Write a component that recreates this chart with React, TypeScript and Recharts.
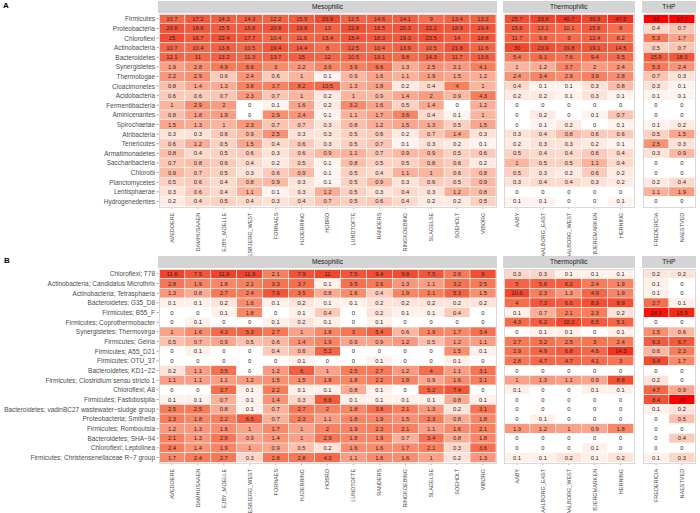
import { ScatterChart, Scatter, XAxis, YAxis } from 'recharts'

const mesoSites = ['AVEDOERE', 'DAMHUSAAEN', 'EJBY_MOELLE', 'ESBJERG_WEST', 'FORNAES', 'HJOERRING', 'HOBRO', 'LUNDTOFTE', 'RANDERS', 'RINGKOEBING', 'SLAGELSE', 'SOEHOLT', 'VIBORG']
const thermoSites = ['AABY', 'AALBORG_EAST', 'AALBORG_WEST', 'BJERGMARKEN', 'HERNING']
const thpSites = ['FREDERICIA', 'NAESTVED']

const phyla = ['Firmicutes', 'Proteobacteria', 'Chloroflexi', 'Actinobacteria', 'Bacteroidetes', 'Synergistetes', 'Thermotogae', 'Cloacimonetes', 'Acidobacteria', 'Fermentibacteria', 'Aminicenantes', 'Spirochaetae', 'Atribacteria', 'Tenericutes', 'Armatimonadetes', 'Saccharibacteria', 'Chlorobi', 'Planctomycetes', 'Lentisphaerae', 'Hydrogenedentes']

const genera = ['Chloroflexi; T78', 'Actinobacteria; Candidatus Microthrix', 'Actinobacteria; Tetrasphaera', 'Bacteroidetes; G35_D8', 'Firmicutes; B55_F', 'Firmicutes; Coprothermobacter', 'Synergistetes; Thermovirga', 'Firmicutes; Gelria', 'Firmicutes; A55_D21', 'Firmicutes; OTU_37', 'Bacteroidetes; KD1\u221222', 'Firmicutes; Clostridium sensu stricto 1', 'Chloroflexi; A8', 'Firmicutes; Fastidiosipila', 'Bacteroidetes; vadinBC27 wastewater\u2212sludge group', 'Proteobacteria; Smithella', 'Firmicutes; Romboutsia', 'Bacteroidetes; SHA\u221294', 'Chloroflexi; Leptolinea', 'Firmicutes; Christensenellaceae R\u22127 group']

// panel A, phylum level
const aMeso = [
  [10.7, 17.2, 14.3, 14.3, 12.2, 15.9, 29.9, 12.5, 14.6, 14.1, 9, 13.4, 13.2],
  [20.8, 18.8, 15.5, 16.8, 20.8, 19.8, 13, 22.8, 16.5, 20.3, 22.2, 18.9, 19.4],
  [25, 16.7, 22.4, 17.7, 10.4, 11.6, 13.4, 18.4, 18.3, 19.3, 23.5, 14, 18.8],
  [10.7, 10.4, 13.8, 10.5, 19.4, 14.4, 8, 12.5, 10.4, 13.9, 10.5, 21.6, 11.6],
  [12.1, 11, 13.2, 11.3, 13.7, 15, 12, 10.5, 13.1, 9.8, 14.3, 11.7, 13.6],
  [1.9, 2.8, 4.9, 6.6, 3, 2.2, 3.6, 3.9, 6.6, 1.3, 2.5, 2.1, 4.1],
  [2.2, 2.9, 0.6, 2.4, 0.6, 1, 0.1, 0.9, 1.6, 1.1, 1.9, 1.5, 1.2],
  [0.8, 1.4, 1.3, 3.8, 3.7, 8.2, 10.5, 1.3, 1.8, 0.2, 0.4, 4, 1],
  [0.6, 0.6, 0.7, 2.3, 0.7, 1, 0.2, 1, 0.9, 1.4, 2, 0.9, 4.3],
  [1, 2.9, 2, 0, 0.1, 1.6, 0.2, 3.2, 1.6, 0.5, 1.4, 0, 1.2],
  [0.8, 1.8, 1.9, 0, 2.9, 2.4, 0.1, 1.1, 1.7, 3.6, 0.4, 0.1, 1],
  [1.5, 1.3, 1, 2.3, 0.7, 0.7, 0.3, 0.8, 1.2, 1.5, 1.3, 0.5, 1.5],
  [0.3, 0.3, 0.6, 0.9, 2.5, 0.3, 0.3, 0.5, 0.6, 0.2, 0.7, 1.4, 0.3],
  [0.6, 1.2, 0.5, 1.5, 0.4, 0.6, 0.3, 0.5, 0.7, 0.1, 0.3, 0.2, 0.1],
  [0.8, 0.4, 0.5, 0.6, 0.3, 0.6, 0.9, 1.1, 0.7, 0.9, 0.9, 0.5, 0.6],
  [0.7, 0.8, 0.6, 0.4, 0.2, 0.5, 0.1, 0.8, 0.5, 0.5, 0.8, 0.6, 0.2],
  [0.9, 0.7, 0.5, 0.3, 0.6, 0.9, 0.1, 0.5, 0.4, 1.1, 1, 0.6, 0.8],
  [0.5, 0.6, 0.4, 0.8, 0.9, 0.3, 0.1, 0.5, 0.9, 0.3, 0.6, 0.5, 0.9],
  [0.3, 0.6, 0.4, 1.1, 0.1, 0.3, 1.2, 0.5, 0.3, 0.4, 0.3, 1.2, 0.8],
  [0.2, 0.4, 0.5, 0.4, 0.3, 0.4, 0.7, 0.5, 0.6, 0.4, 0.2, 0.2, 0.5],
]
const aThermo = [
  [25.7, 33.8, 40.7, 30.9, 47.5],
  [15.6, 13.1, 10.1, 15.6, 8],
  [11.7, 9.8, 9, 12.4, 8.2],
  [30, 23.9, 19.8, 19.1, 14.5],
  [5.4, 9.1, 7.6, 9.4, 9.5],
  [1, 1.2, 3.7, 2, 2.4],
  [2.4, 3.4, 2.9, 3.9, 2.8],
  [0.4, 0.1, 0.1, 0.3, 0.8],
  [0.2, 0.2, 0.1, 0.3, 0.1],
  [0, 0, 0, 0, 0],
  [0, 0.2, 0, 0.1, 0.7],
  [0, 0.1, 0.2, 0, 0.1],
  [0.3, 0.4, 0.8, 0.6, 0.6],
  [0.2, 0.3, 0.3, 0.2, 0.1],
  [0.5, 0.4, 0.4, 0.6, 0.4],
  [1, 0.5, 0.5, 1.1, 0.4],
  [0.5, 0.3, 0.2, 0.6, 0.2],
  [0.3, 0.4, 0.4, 0.3, 0.2],
  [0, 0, 0, 0, 0],
  [0.1, 0.1, 0, 0, 0.1],
]
const aThp = [
  [68, 67.7], [0.4, 0.7], [5.3, 1.7], [0.5, 0.7], [15.9, 18.3],
  [5.3, 2.4], [0.7, 0.3], [0.3, 0.1], [0.1, 0.1], [0, 0],
  [0, 0], [0.1, 0.2], [0.5, 1.5], [2.5, 0.3], [0.3, 0.9],
  [0, 0], [0, 0], [0.2, 0.4], [1.1, 1.9], [0, 0],
]

// panel B, genus level
const bMeso = [
  [11.8, 7.5, 11.9, 11.9, 2.1, 7.9, 11, 7.5, 9.4, 9.8, 7.5, 2.6, 9],
  [2.8, 1.9, 1.8, 2.1, 3.3, 3.7, 0.1, 3.5, 2.6, 1.3, 1.1, 3.2, 2.5],
  [1.3, 0.8, 2.7, 2.4, 7.6, 3.5, 0.8, 1.6, 0.4, 1.9, 2.1, 5.3, 1.5],
  [0.1, 0.1, 0.2, 1.6, 0.1, 0.2, 0.1, 0.1, 0.2, 0.2, 0.2, 0.2, 0.2],
  [0, 0, 0.1, 1.8, 0, 0.1, 0.4, 0, 0.2, 0.1, 0.1, 0.4, 0],
  [0, 0.1, 0, 0, 0.1, 0.2, 0.1, 0, 0.1, 0, 0, 0, 0],
  [1, 1.6, 4.3, 5.3, 2.7, 1, 1.8, 3, 5.4, 0.6, 1.9, 1.7, 3.4],
  [0.5, 0.7, 0.9, 0.5, 0.6, 1.4, 1.9, 0.9, 0.9, 1.2, 0.5, 1.2, 1.1],
  [0, 0.1, 0, 0, 0.4, 0.6, 5.2, 0, 0, 0, 0, 1.5, 0.1],
  [0, 0, 0, 0, 0, 0.1, 0, 0, 0.1, 0, 0, 0.1, 0],
  [0.2, 1.1, 3.5, 0, 1.2, 6, 1, 2.5, 2.7, 1.2, 4, 1.1, 3.1],
  [1.1, 1.1, 1.1, 1.2, 1.5, 1.5, 1.8, 1.8, 2.2, 1.9, 0.9, 1.6, 2.1],
  [0, 0, 3.7, 0.1, 2.2, 0.1, 0.1, 0.8, 0.1, 0, 5.2, 7.4, 0],
  [0.1, 0.1, 0.7, 0.1, 1.4, 0.3, 6.6, 0.1, 0.1, 0.1, 0.1, 0.8, 0.1],
  [2.5, 2.5, 0.8, 0.1, 0.7, 2.7, 2, 1.8, 3.8, 2.1, 1.3, 0.2, 3.1],
  [2.3, 1.8, 2.2, 6.5, 0.7, 2.3, 1.1, 1.8, 1.9, 1.5, 2.3, 0.8, 1.8],
  [1.2, 1.3, 1.6, 1, 1.7, 1, 2, 1.9, 2.3, 2.1, 1.1, 1.6, 2.1],
  [2.1, 1.3, 2.8, 0.9, 1.4, 1, 2.9, 1.8, 1.9, 0.7, 3.4, 0.8, 1.8],
  [2.4, 1.4, 1.9, 1, 0.9, 0.5, 0.2, 1.6, 1.6, 1.7, 2.1, 0.3, 3.6],
  [1.7, 2.4, 2.7, 0.3, 2.8, 2.8, 4.3, 1.1, 1.6, 1.6, 1, 0.2, 1.3],
]
const bThermo = [
  [0.3, 0.3, 0.1, 0.1, 0.1],
  [5, 5.6, 6.2, 2.4, 1.9],
  [10.6, 2.3, 1.3, 4.9, 1.9],
  [4, 7.3, 6.6, 8.9, 8.9],
  [0.1, 0.7, 2.1, 2.3, 0.2],
  [4.3, 6.2, 10.2, 6.5, 5.1],
  [0, 0.1, 0.1, 0, 0.1],
  [2.7, 3.2, 2.5, 3, 2.4],
  [2.9, 4.9, 6.8, 4.6, 14.3],
  [2.8, 4.7, 4.7, 4.1, 3],
  [0, 0, 0, 0, 0],
  [1, 1.3, 1.1, 0.9, 8.6],
  [0.1, 0, 0, 0.1, 0.1],
  [0, 0, 0, 0, 0],
  [0, 0, 0, 0, 0],
  [0, 0.1, 0, 0, 0],
  [1.3, 1.2, 1, 0.9, 1.8],
  [0, 0, 0, 0, 0],
  [0, 0, 0, 0.1, 0],
  [0.1, 0.1, 0.2, 0.1, 0.2],
]
const bThp = [
  [0.2, 0.2], [0.1, 0], [0.1, 0], [3.7, 0.1], [18.3, 15.9],
  [0, 0], [1.5, 0.6], [6.3, 6.7], [0.6, 2.3], [9.4, 1.7],
  [0, 0], [0.2, 0], [4.7, 0.9], [8.4, 20], [0.1, 0.2],
  [0, 0.5], [0, 0], [0, 0.4], [0, 0], [0.1, 0.3],
]

const FONT = '"Liberation Sans", Arial, sans-serif'

const STOPS: [number, number[]][] = [
  [0, [255, 255, 255]],
  [0.05, [255, 243, 239]],
  [0.12, [253, 226, 216]],
  [0.26, [251, 180, 158]],
  [0.37, [249, 154, 128]],
  [0.48, [247, 128, 95]],
  [0.65, [244, 105, 74]],
  [0.77, [242, 85, 58]],
  [0.88, [240, 66, 40]],
  [0.95, [244, 40, 24]],
  [1, [255, 0, 0]],
]

function cellColor(v: number, max: number) {
  if (v <= 0) return '#ffffff'
  const t = Math.log(1 + v * 3) / Math.log(1 + max * 3)
  for (let i = 1; i < STOPS.length; i++) {
    const [t1, c1] = STOPS[i]
    if (t <= t1) {
      const [t0, c0] = STOPS[i - 1]
      const f = (t - t0) / (t1 - t0)
      const c = c0.map((a, k) => Math.round(a + (c1[k] - a) * f))
      return `rgb(${c[0]},${c[1]},${c[2]})`
    }
  }
  return '#ff0000'
}

function SiteTick({ x, y, payload }: any) {
  const ty = y + 2
  return (
    <text
      x={x}
      y={ty}
      transform={`rotate(-90, ${x}, ${ty})`}
      textAnchor="end"
      dominantBaseline="central"
      fontSize={5.5}
      fill="#4d4d4d"
    >
      {payload.value}
    </text>
  )
}

function TaxonTick({ x, y, payload }: any) {
  return (
    <text x={x} y={y} textAnchor="end" dominantBaseline="central" fontSize={6.5} fill="#4d4d4d">
      {payload.value}
    </text>
  )
}

interface FacetProps {
  title: string
  sites: string[]
  taxa: string[]
  values: number[][]
  max: number
  left: number
  top: number
  plotW: number
  plotH: number
  yWidth: number
}

function Facet({ title, sites, taxa, values, max, left, top, plotW, plotH, yWidth }: FacetProps) {
  const data = taxa.flatMap((t, i) => sites.map((s, j) => ({ site: s, taxon: t, v: values[i][j] })))
  const cw = plotW / sites.length
  const ch = plotH / taxa.length
  const xH = 60

  const tile = (p: any) => {
    const { cx, cy, payload } = p
    return (
      <g>
        <rect
          x={cx - cw / 2}
          y={cy - ch / 2}
          width={cw}
          height={ch}
          fill={cellColor(payload.v, max)}
          stroke="#ffffff"
          strokeWidth={0.5}
        />
        <text x={cx} y={cy} textAnchor="middle" dominantBaseline="central" fontSize={5.8} fill="#262626">
          {payload.v}
        </text>
      </g>
    )
  }

  return (
    <>
      <div
        style={{
          position: 'absolute',
          left: left + yWidth - 1.5,
          top: top - 12.8,
          width: plotW + 3,
          height: 11.6,
          background: '#d4d4d4',
          color: '#1a1a1a',
          fontSize: 6.6,
          lineHeight: '11.6px',
          textAlign: 'center',
        }}
      >
        {title}
      </div>
      <div style={{ position: 'absolute', left, top }}>
        <ScatterChart width={yWidth + plotW} height={plotH + xH} margin={{ top: 0, right: 0, bottom: 0, left: 0 }}>
          <XAxis
            type="category"
            dataKey="site"
            allowDuplicatedCategory={false}
            height={xH}
            interval={0}
            tick={<SiteTick />}
            tickSize={2.5}
            axisLine={false}
            tickLine={{ stroke: '#4d4d4d', strokeWidth: 0.5 }}
          />
          <YAxis
            type="category"
            dataKey="taxon"
            allowDuplicatedCategory={false}
            reversed
            hide={yWidth === 0}
            width={yWidth}
            interval={0}
            tick={<TaxonTick />}
            tickSize={2.5}
            tickMargin={1.5}
            axisLine={false}
            tickLine={{ stroke: '#4d4d4d', strokeWidth: 0.5 }}
          />
          <Scatter data={data} shape={tile} isAnimationActive={false} />
        </ScatterChart>
        <div
          style={{
            position: 'absolute',
            left: yWidth - 0.5,
            top: -0.5,
            width: plotW,
            height: plotH,
            border: '0.5px solid #d9d9d9',
            pointerEvents: 'none',
          }}
        />
      </div>
    </>
  )
}

const maxA = Math.max(...[...aMeso, ...aThermo, ...aThp].flat())
const maxB = Math.max(...[...bMeso, ...bThermo, ...bThp].flat())

const COL = 25.92
const A_TOP = 14.2
const A_H = 192.2
const B_TOP = 269.2
const B_H = 193.4

export default function App() {
  return (
    <div style={{ position: 'absolute', left: 0, top: 0, width: 700, height: 513, background: '#fff', fontFamily: FONT, overflow: 'hidden' }}>
      <div style={{ position: 'absolute', left: 3, top: 1, fontSize: 8, fontWeight: 'bold' }}>A</div>
      <Facet title="Mesophilic" sites={mesoSites} taxa={phyla} values={aMeso} max={maxA} left={0} top={A_TOP} plotW={COL * mesoSites.length} plotH={A_H} yWidth={159} />
      <Facet title="Thermophilic" sites={thermoSites} taxa={phyla} values={aThermo} max={maxA} left={504} top={A_TOP} plotW={COL * thermoSites.length} plotH={A_H} yWidth={0} />
      <Facet title="THP" sites={thpSites} taxa={phyla} values={aThp} max={maxA} left={643} top={A_TOP} plotW={COL * thpSites.length} plotH={A_H} yWidth={0} />

      <div style={{ position: 'absolute', left: 4, top: 256, fontSize: 8, fontWeight: 'bold' }}>B</div>
      <Facet title="Mesophilic" sites={mesoSites} taxa={genera} values={bMeso} max={maxB} left={0} top={B_TOP} plotW={COL * mesoSites.length} plotH={B_H} yWidth={159} />
      <Facet title="Thermophilic" sites={thermoSites} taxa={genera} values={bThermo} max={maxB} left={504} top={B_TOP} plotW={COL * thermoSites.length} plotH={B_H} yWidth={0} />
      <Facet title="THP" sites={thpSites} taxa={genera} values={bThp} max={maxB} left={643} top={B_TOP} plotW={COL * thpSites.length} plotH={B_H} yWidth={0} />
    </div>
  )
}
